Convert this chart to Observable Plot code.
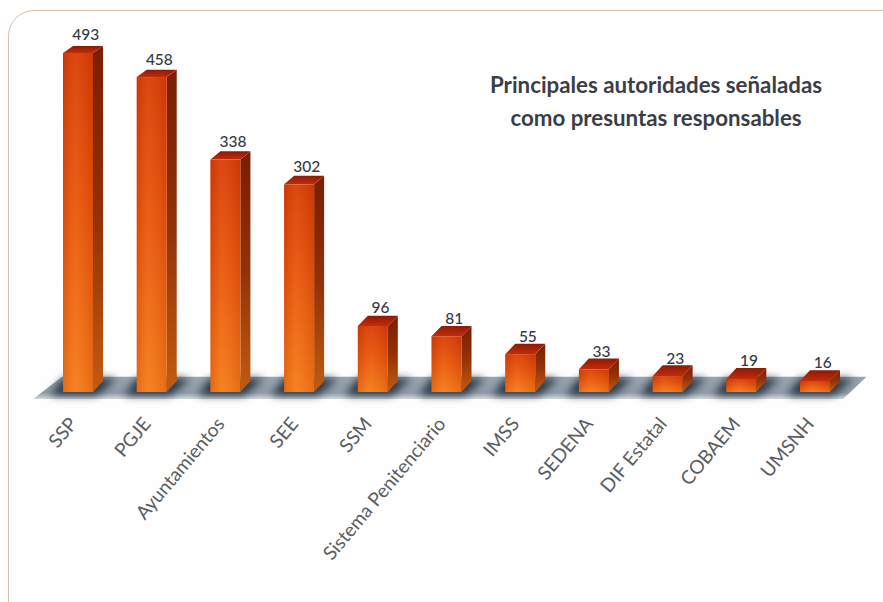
<!DOCTYPE html>
<html><head><meta charset="utf-8">
<script src="https://cdn.jsdelivr.net/npm/d3@7"></script>
<script src="https://cdn.jsdelivr.net/npm/@observablehq/plot@0.6"></script>
<style>
html,body{margin:0;padding:0;background:#fff;overflow:hidden}
#wrap{position:relative;width:883px;height:602px;overflow:hidden;background:#fffefe}
#panel{position:absolute;left:8px;top:10px;width:920px;height:640px;border:1px solid #dbbfa9;border-radius:26px;box-sizing:border-box}
#title{position:absolute;left:456px;top:68px;width:400px;text-align:center;font:bold 22.3px/33px Lato,sans-serif;color:#3a3f47}
svg{position:absolute;left:0;top:0;background:transparent!important}
</style></head><body>
<div id="wrap"><div id="panel"></div><div id="title">Principales autoridades señaladas<br>como presuntas responsables</div></div>
<script>
const categories = ["SSP","PGJE","Ayuntamientos","SEE","SSM","Sistema Penitenciario","IMSS","SEDENA","DIF Estatal","COBAEM","UMSNH"];
const values = [493,458,338,302,96,81,55,33,23,19,16];

const half = 0.2035, depthX = 0.136, depthBase = 16;
const depthTop = v => depthBase - 0.012 * v;
const rows = values.map((v,i)=>({i,v,name:categories[i]}));
const side = rows.flatMap(d=>[
  {id:d.i,x:d.i+half,y1:0,y2:d.v},
  {id:d.i,x:d.i+half+depthX,y1:depthBase,y2:d.v+depthTop(d.v)}]);
const top_ = rows.flatMap(d=>[
  {id:d.i,x1:d.i-half,x2:d.i+half,y:d.v},
  {id:d.i,x1:d.i-half+depthX,x2:d.i+half+depthX,y:d.v+depthTop(d.v)}]);
const floor = [{x1:-0.61,x2:10.38,y:-10},{x1:-0.217,x2:10.7,y:22}];
const shadow = rows.flatMap(d=>[
  {id:d.i,x1:d.i-half-0.17,x2:d.i+half+0.05,y:-5},
  {id:d.i,x1:d.i-half+0.0,x2:d.i+half+depthX+0.19,y:20}]);

function defs(){
  const g=d3.create("svg:g"), D=g.append("defs");
  const grad=(id,stops,h)=>{const l=D.append("linearGradient").attr("id",id).attr("x1",0).attr("y1",0).attr("x2",h?1:0).attr("y2",h?0:1);
    stops.forEach(([o,c,a])=>l.append("stop").attr("offset",o).attr("stop-color",c).attr("stop-opacity",a??1));};
  grad("front",[[0,"#d63a06"],[0.45,"#e8540c"],[1,"#f57c1a"]]);
  grad("sideFace",[[0,"#7a1e02"],[0.5,"#933208"],[1,"#c25c10"]]);
  grad("topFace",[[0,"#8a1a08"],[1,"#c42c08"]]);
  grad("sheen",[[0,"#a02000",0.2],[0.4,"#ffb060",0.12],[1,"#a02000",0.18]],true);
  grad("floorFill",[[0,"#9aa6b1"],[0.72,"#8f9ca8"],[1,"#d2d6d9"]]);
  return g.node();
}
const chart = Plot.plot({
  width:883,height:602,marginLeft:0,marginRight:0,marginTop:0,marginBottom:210,
  style:{background:"transparent"},
  x:{type:"linear",domain:[0,10],range:[78,815]},
  y:{type:"linear",domain:[0,493],range:[392,53],axis:null},
  marks:[
    defs,
    Plot.areaX(floor,{x1:"x1",x2:"x2",y:"y",fill:"url(#floorFill)"}),
    Plot.areaX(shadow,{x1:"x1",x2:"x2",y:"y",z:"id",fill:"#1c2936",fillOpacity:0.9,imageFilter:"blur(4px)"}),
    Plot.areaY(side,{x:"x",y1:"y1",y2:"y2",z:"id",fill:"url(#sideFace)"}),
    Plot.areaX(top_,{x1:"x1",x2:"x2",y:"y",z:"id",fill:"url(#topFace)"}),
    Plot.rect(rows,{x1:d=>d.i-half,x2:d=>d.i+half,y1:0,y2:"v",fill:"url(#front)"}),
    Plot.rect(rows,{x1:d=>d.i-half,x2:d=>d.i+half,y1:0,y2:"v",fill:"url(#sheen)"}),
    Plot.text(rows,{x:d=>d.i+depthX/1.4,y:"v",text:d=>String(d.v),dy:-18,fontSize:15.5,fontFamily:"Lato, sans-serif",fontWeight:500,fill:"#343b44",textAnchor:"middle"}),
    Plot.axisX({ticks:d3.range(categories.length),tickFormat:i=>categories[i],tickRotate:-50,tickSize:0,tickPadding:24,dx:-5,dy:4,label:null,fontSize:19,fontFamily:"Lato, sans-serif",fill:"#5a5d61"})
  ]
});
document.getElementById("wrap").appendChild(chart);
</script></body></html>
